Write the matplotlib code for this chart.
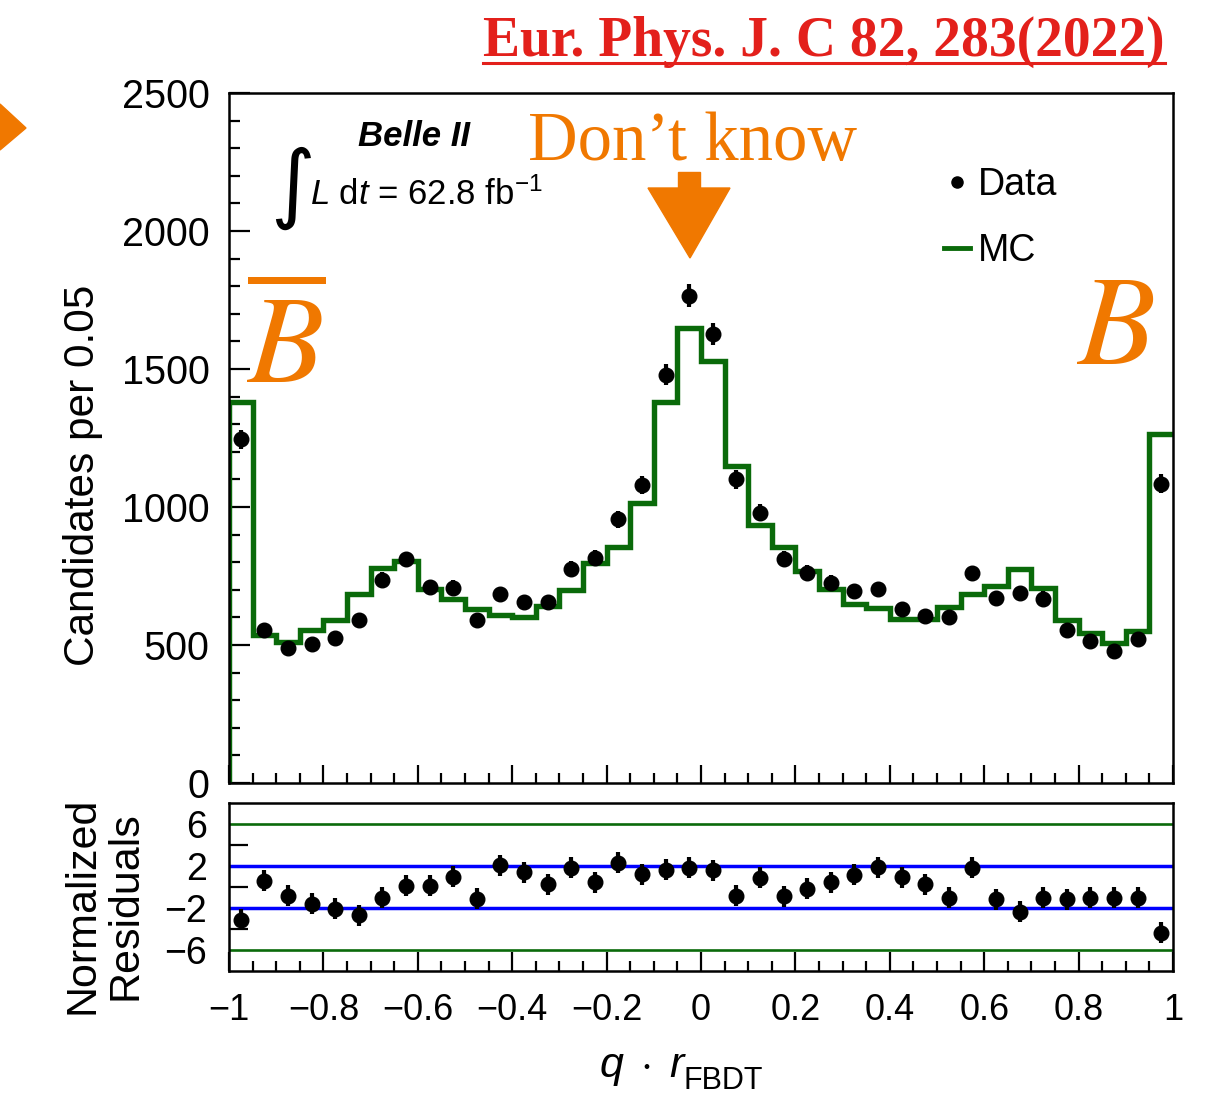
import numpy as np
import matplotlib
matplotlib.use("Agg")
import matplotlib.pyplot as plt
from matplotlib.lines import Line2D
from matplotlib.patches import Polygon

plt.rcParams['font.family'] = ['Liberation Sans', 'DejaVu Sans']
plt.rcParams['mathtext.fontset'] = 'custom'
plt.rcParams['mathtext.rm'] = 'Liberation Sans'
plt.rcParams['mathtext.it'] = 'Liberation Sans:italic'
plt.rcParams['mathtext.bf'] = 'Liberation Sans:bold'

# bin edges of q*r (40 bins of 0.05)
edges = np.linspace(-1, 1, 41)
centers = 0.5 * (edges[1:] + edges[:-1])

data = [1245, 555, 488, 502, 525, 592, 737, 810, 710, 707,
        590, 685, 655, 655, 775, 815, 955, 1080, 1480, 1765,
        1628, 1100, 980, 812, 762, 725, 695, 703, 630, 605,
        600, 760, 670, 688, 668, 555, 515, 478, 520, 1085]
data_err = [35, 24, 22, 22, 23, 24, 27, 28, 27, 27,
            24, 26, 26, 26, 28, 29, 31, 33, 38, 42,
            40, 33, 31, 28, 28, 27, 26, 27, 25, 25,
            24, 28, 26, 26, 26, 24, 23, 22, 23, 33]
mc = [1380, 537, 510, 554, 591, 685, 779, 806, 704, 666,
      629, 608, 600, 641, 698, 798, 854, 1016, 1381, 1648,
      1529, 1148, 935, 854, 769, 704, 648, 633, 594, 594,
      638, 685, 713, 775, 708, 591, 544, 508, 550, 1263]
resid = [-3.1, 0.6, -0.85, -1.6, -2.05, -2.7, -1.0, 0.1, 0.1, 1.0,
         -1.1, 2.05, 1.4, 0.25, 1.85, 0.45, 2.3, 1.2, 1.65, 1.85,
         1.6, -0.85, 0.9, -0.9, -0.15, 0.45, 1.15, 1.9, 0.95, 0.25,
         -1.0, 1.85, -1.15, -2.35, -1.0, -1.15, -1.0, -1.0, -1.0, -4.35]
resid_err = [1.0] * 40

xtick_vals = [-1, -0.8, -0.6, -0.4, -0.2, 0, 0.2, 0.4, 0.6, 0.8, 1]
xtick_labels = ['\u22121', '\u22120.8', '\u22120.6', '\u22120.4', '\u22120.2', '0',
                '0.2', '0.4', '0.6', '0.8', '1']

W, H = 1219, 1097
def fx(px):
    return px / W
def fy(py):
    return 1 - py / H

GREEN = '#0a6a0a'
ORANGE = '#f07800'
RED = '#e3201b'

fig = plt.figure(figsize=(W / 100, H / 100), dpi=100)
ax = fig.add_axes([fx(229), fy(783), fx(1173) - fx(229), fy(93) - fy(783)])
axr = fig.add_axes([fx(229), fy(971), fx(1173) - fx(229), fy(803) - fy(971)])

# main panel
ax.stairs(mc, edges, baseline=None, color=GREEN, lw=3.9, zorder=2)
ax.vlines(edges[0], 0, mc[0], color=GREEN, lw=3.9, zorder=2)
ax.errorbar(centers, data, yerr=data_err, fmt='o', color='black', ms=10.5,
            elinewidth=3, capsize=0, zorder=3)
ax.set_xlim(-1, 1)
ax.set_ylim(0, 2500)
ax.set_yticks([0, 500, 1000, 1500, 2000, 2500])
ax.set_yticks(np.arange(0, 2501, 100), minor=True)
ax.set_xticks(xtick_vals)
ax.set_xticks(np.arange(-1, 1.001, 0.05), minor=True)
ax.set_xticklabels([])
ax.tick_params(axis='both', which='both', direction='in', top=False, right=False, width=1.6)
ax.tick_params(axis='y', which='major', length=15, labelsize=28.5, pad=14)
ax.tick_params(axis='y', which='minor', length=8)
ax.tick_params(axis='x', which='major', length=13)
ax.tick_params(axis='x', which='minor', length=7)
ax.set_ylabel('Candidates per 0.05', fontsize=30.5)
ax.yaxis.set_label_coords(-0.133, 0.446)
for s in ax.spines.values():
    s.set_linewidth(1.8)

handles = [Line2D([], [], marker='o', ls='none', color='black', ms=8),
           Line2D([], [], color=GREEN, lw=3.5)]
ax.legend(handles, ['Data', 'MC'], loc='upper left', frameon=False, fontsize=27,
          handlelength=0.7, handletextpad=0.2, labelspacing=0.8,
          bbox_to_anchor=(fx(910), fy(133)), bbox_transform=fig.transFigure)

# residual panel
axr.axhline(6, color=GREEN, lw=1.9)
axr.axhline(-6, color=GREEN, lw=1.9)
axr.axhline(2, color='#0000ff', lw=2.5)
axr.axhline(-2, color='#0000ff', lw=2.5)
axr.errorbar(centers, resid, yerr=resid_err, fmt='o', color='black', ms=10.5,
             elinewidth=3, capsize=0, zorder=3)
axr.set_xlim(-1, 1)
axr.set_ylim(-8, 8)
axr.set_yticks([-6, -2, 2, 6])
axr.set_yticks([-4, 0, 4], minor=True)
axr.set_xticks(xtick_vals)
axr.set_xticklabels(xtick_labels)
axr.set_xticks(np.arange(-1, 1.001, 0.05), minor=True)
axr.tick_params(axis='both', which='both', direction='in', top=False, right=False, width=1.6)
axr.tick_params(axis='y', which='major', length=0, labelsize=27, pad=16)
axr.tick_params(axis='y', which='minor', length=14)
axr.tick_params(axis='x', which='major', length=14, labelsize=26, pad=16)
axr.tick_params(axis='x', which='minor', length=7)
for s in axr.spines.values():
    s.set_linewidth(1.8)
axr.set_ylabel('Normalized\nResiduals', fontsize=31, linespacing=1.12)
axr.yaxis.set_label_coords(-0.088, 0.39)

# x axis title: q . r with a low-set subscript
fig.text(fx(599), fy(1077), r'$q\;\cdot\;r$', fontsize=31)
fig.text(fx(684), fy(1089), 'FBDT', fontsize=22)

# annotations
fig.text(fx(358), fy(146), 'Belle II', fontsize=25, fontweight='bold', style='italic')
fig.text(fx(270), fy(212), '\u222b', fontsize=62, family='DejaVu Sans')
fig.text(fx(310), fy(205), r'$L$ d$t$ = 62.8 fb$^{\mathrm{-}1}$', fontsize=25)

fig.text(fx(528), fy(160), 'Don\u2019t know', fontsize=49.5, color=ORANGE,
         family='Liberation Serif')
fig.text(fx(246), fy(383), r'$\overline{B}$', fontsize=90, color=ORANGE,
         math_fontfamily='stix')
fig.text(fx(1076), fy(364), r'$B$', fontsize=92, color=ORANGE,
         math_fontfamily='stix')

title = fig.text(fx(1165), fy(56), 'Eur. Phys. J. C 82, 283(2022)', fontsize=40,
                 color=RED, fontweight='bold', family='Liberation Serif', ha='right')
fig.canvas.draw()
bb = title.get_window_extent().transformed(fig.transFigure.inverted())
fig.add_artist(Line2D([bb.x0, bb.x1], [fy(63), fy(63)], color=RED, lw=2.2,
                      transform=fig.transFigure))

# hand-drawn arrows
tri = Polygon([(fx(648), fy(188)), (fx(730), fy(188)), (fx(690), fy(258))],
              closed=True, color=ORANGE, transform=fig.transFigure)
stem = Polygon([(fx(678), fy(172)), (fx(700), fy(172)), (fx(700), fy(190)), (fx(678), fy(190))],
               closed=True, color=ORANGE, transform=fig.transFigure)
side = Polygon([(fx(0), fy(104)), (fx(26), fy(128)), (fx(0), fy(150))],
               closed=True, color=ORANGE, transform=fig.transFigure)
for p in (tri, stem, side):
    fig.add_artist(p)

fig.savefig('out.png', dpi=100)
